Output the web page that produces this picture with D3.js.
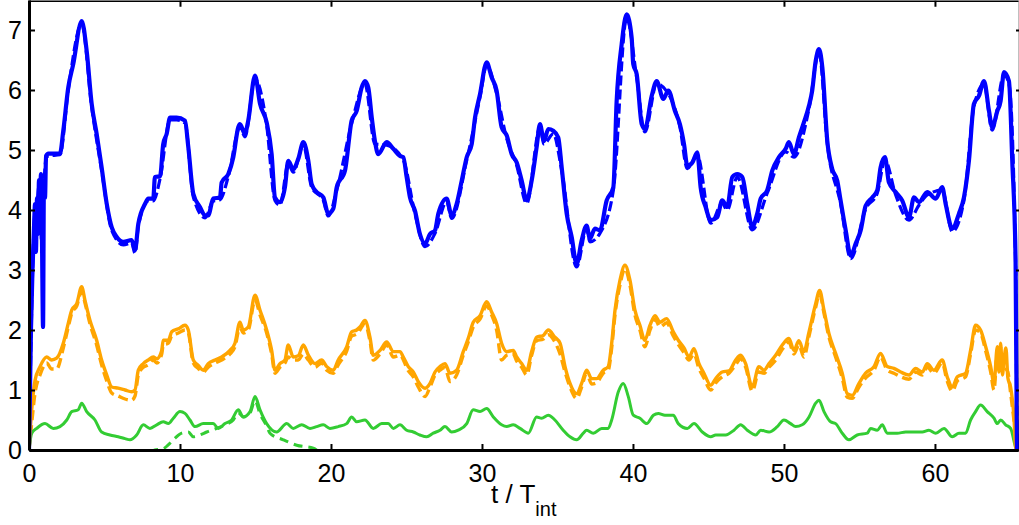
<!DOCTYPE html>
<html>
<head>
<meta charset="utf-8">
<script src="https://cdn.jsdelivr.net/npm/d3@7"></script>
<style>
  body { margin: 0; background: #fff; }
  svg { display: block; }
</style>
</head>
<body>
<div id="chart"></div>
<script>
// tick values
const xTicks = [0, 10, 20, 30, 40, 50, 60];
const yTicks = [0, 1, 2, 3, 4, 5, 6, 7];

// series: [t / T_int, value]
const blueSolid = [
  [0,0],[0.13,2.0],[0.23,3.0],[0.33,3.7],[0.40,4.1],[0.46,3.3],[0.53,4.2],[0.60,3.6],[0.66,4.5],[0.73,3.9],
  [0.79,4.6],[0.86,3.5],[0.93,2.05],[0.99,4.5],[1.06,4.2],[1.13,4.9],[1.28,4.94],[2.05,4.94],[2.27,5.32],[2.60,6.04],
  [2.93,6.43],[3.49,7.15],[3.82,6.65],[4.15,5.77],[4.48,5.27],[4.81,4.71],[5.15,4.10],[5.48,3.71],[5.81,3.55],[6.25,3.47],
  [6.80,3.5],[7.02,3.33],[7.24,3.77],[7.68,4.10],[7.90,4.19],[8.23,4.19],[8.34,4.55],[8.68,4.56],[8.89,5.1],[9.12,5.27],
  [9.34,5.54],[9.78,5.54],[10.33,5.49],[10.55,5.05],[10.88,4.27],[11.32,4.05],[11.66,3.91],[11.87,3.91],[12.20,4.19],[12.65,4.21],
  [12.76,4.46],[13.20,4.6],[13.53,4.88],[13.86,5.38],[13.97,5.43],[14.30,5.27],[14.52,5.49],[14.97,6.24],[15.30,5.77],[15.74,5.46],
  [16.07,4.93],[16.29,4.21],[16.62,4.13],[16.95,4.38],[17.17,4.82],[17.50,4.68],[17.83,4.85],[18.17,5.13],[18.50,4.82],[18.72,4.43],
  [19.05,4.3],[19.49,4.21],[19.82,3.94],[20.15,4.02],[20.38,4.38],[20.93,4.66],[21.37,5.49],[21.70,5.65],[22.03,6.04],[22.25,6.15],
  [22.47,6.04],[22.70,5.54],[22.91,5.15],[23.13,4.93],[23.69,5.13],[24.13,5.02],[24.57,4.9],[24.79,4.88],[25.01,4.55],[25.23,4.21],
  [25.56,3.99],[25.89,3.6],[26.23,3.44],[26.56,3.6],[26.89,3.66],[27.11,3.94],[27.66,4.19],[27.99,3.91],[28.32,4.1],[28.66,4.49],
  [28.99,4.88],[29.32,5.1],[29.54,5.54],[29.87,5.93],[30.31,6.46],[30.64,6.21],[30.97,5.99],[31.30,5.38],[31.64,5.24],[31.97,4.93],
  [32.30,4.79],[32.63,4.49],[32.96,4.16],[33.29,4.49],[33.62,5.05],[33.84,5.43],[34.11,5.15],[34.39,5.35],[34.72,5.32],[35.05,5.21],
  [35.28,4.71],[35.61,3.94],[35.94,3.55],[36.27,3.1],[36.60,3.49],[36.93,3.74],[37.15,3.52],[37.48,3.69],[37.81,3.66],[38.26,4.16],
  [38.70,4.38],[38.92,5.82],[39.25,6.76],[39.58,7.26],[39.91,6.88],[40.02,6.43],[40.25,6.26],[40.58,5.43],[40.79,5.35],[41.24,5.9],
  [41.57,6.15],[42.01,5.85],[42.34,5.99],[42.78,5.65],[43.11,5.43],[43.38,5.1],[43.60,4.74],[43.93,4.79],[44.26,4.96],[44.48,4.38],
  [44.81,4.05],[45.15,3.83],[45.58,3.88],[45.91,4.16],[46.24,4.05],[46.58,4.55],[46.91,4.6],[47.24,4.55],[47.57,4.1],[47.90,3.72],
  [48.23,3.94],[48.46,4.19],[48.89,4.33],[49.23,4.66],[49.67,4.88],[50.11,5.02],[50.33,5.13],[50.66,4.93],[50.99,5.21],[51.32,5.46],
  [51.66,5.74],[51.87,5.99],[52.10,6.48],[52.32,6.68],[52.54,6.38],[52.87,5.15],[53.20,4.68],[53.53,4.49],[53.75,4.16],[54.09,3.66],
  [54.42,3.24],[54.75,3.44],[55.08,3.66],[55.41,4.07],[55.85,4.21],[56.18,4.33],[56.40,4.71],[56.69,4.88],[56.95,4.46],[57.40,4.3],
  [57.83,4.16],[58.28,3.88],[58.61,4.21],[58.94,4.13],[59.49,4.3],[60.05,4.19],[60.48,4.38],[60.71,4.1],[61.15,3.69],[61.59,3.94],
  [61.92,4.21],[62.25,4.82],[62.58,5.77],[62.91,5.9],[63.25,6.15],[63.58,5.65],[63.79,5.38],[64.13,5.65],[64.35,5.82],[64.57,6.3],
  [64.90,6.15],[65.12,4.82],[65.34,3.16],[65.43,0]
];

const blueDashed = [
  [0,0],[0.13,1.8],[0.23,2.9],[0.40,4.0],[0.53,4.1],[0.66,4.4],[0.86,3.4],[0.99,4.4],[1.13,4.85],[1.28,4.9],
  [2.05,4.92],[2.60,6.0],[3.49,7.1],[4.15,5.72],[4.81,4.66],[5.48,3.66],[6.25,3.42],[6.80,3.45],[7.02,3.28],[7.24,3.72],
  [7.90,4.15],[8.23,4.15],[8.68,4.52],[9.34,5.5],[9.78,5.5],[10.33,5.45],[10.88,4.22],[11.66,3.87],[12.20,4.15],[12.65,4.17],
  [13.20,4.56],[13.97,5.38],[14.30,5.22],[14.97,6.18],[15.74,5.41],[16.29,4.16],[16.62,4.08],[17.17,4.77],[17.50,4.63],[18.17,5.08],
  [18.72,4.38],[19.49,4.16],[19.82,3.9],[20.38,4.33],[21.37,5.44],[22.25,6.1],[22.91,5.1],[23.69,5.08],[24.79,4.83],[25.56,3.94],
  [26.23,3.39],[26.89,3.61],[27.66,4.14],[27.99,3.86],[28.99,4.83],[29.87,5.88],[30.31,6.41],[30.97,5.94],[31.64,5.19],[32.30,4.74],
  [32.96,4.11],[33.84,5.38],[34.11,5.1],[34.72,5.27],[35.28,4.66],[36.27,3.05],[36.93,3.69],[37.15,3.47],[37.81,3.61],[38.70,4.33],
  [39.58,7.2],[40.25,6.2],[40.79,5.3],[41.57,6.1],[42.34,5.94],[43.11,5.38],[43.60,4.69],[44.26,4.91],[45.15,3.78],[45.91,4.11],
  [46.24,4.0],[46.91,4.55],[47.90,3.67],[48.89,4.28],[50.11,4.97],[50.66,4.88],[51.66,5.69],[52.32,6.63],[52.87,5.1],[53.75,4.11],
  [54.42,3.19],[55.41,4.02],[56.18,4.28],[56.69,4.83],[57.40,4.25],[58.28,3.83],[58.94,4.08],[59.49,4.25],[60.48,4.33],[61.15,3.64],
  [61.92,4.16],[62.58,5.72],[63.25,6.1],[63.79,5.33],[64.57,6.25],[64.90,6.1],[65.34,3.1],[65.43,0]
];

const orangeSolid = [
  [0,0],[0.18,0.67],[0.40,1.16],[0.73,1.39],[1.17,1.55],[1.50,1.5],[1.83,1.53],[2.27,1.78],[2.60,2.11],[2.83,2.33],
  [3.16,2.44],[3.49,2.72],[3.71,2.49],[4.04,2.16],[4.48,1.83],[4.81,1.5],[5.15,1.25],[5.48,1.05],[5.91,1.03],[6.36,1.0],
  [6.80,0.97],[7.02,1.0],[7.24,1.33],[7.57,1.44],[7.90,1.5],[8.23,1.55],[8.46,1.52],[8.79,1.66],[8.89,1.83],[9.23,1.83],
  [9.45,1.97],[9.89,2.02],[10.33,2.08],[10.55,2.0],[10.88,1.5],[11.21,1.41],[11.54,1.33],[11.87,1.44],[12.32,1.5],[12.76,1.55],
  [13.31,1.66],[13.64,1.78],[13.97,2.13],[14.19,2.0],[14.52,2.05],[14.97,2.58],[15.30,2.33],[15.74,2.0],[16.07,1.66],[16.29,1.33],
  [16.62,1.44],[16.95,1.5],[17.17,1.75],[17.50,1.55],[17.83,1.57],[18.17,1.75],[18.50,1.58],[18.94,1.44],[19.38,1.5],[19.72,1.39],
  [20.15,1.33],[20.48,1.5],[21.04,1.72],[21.37,1.97],[21.70,2.0],[21.92,2.05],[22.25,2.16],[22.58,1.88],[22.80,1.58],[23.25,1.66],
  [23.69,1.8],[24.13,1.64],[24.57,1.64],[24.79,1.55],[25.12,1.39],[25.45,1.3],[25.78,1.14],[26.23,1.03],[26.56,1.11],[26.89,1.3],
  [27.22,1.39],[27.55,1.44],[27.88,1.28],[28.32,1.33],[28.76,1.64],[29.09,1.86],[29.42,2.13],[29.87,2.24],[30.31,2.47],[30.64,2.3],
  [30.97,2.11],[31.30,1.78],[31.64,1.64],[32.07,1.66],[32.30,1.55],[32.63,1.44],[32.96,1.33],[33.29,1.64],[33.62,1.88],[34.06,1.91],
  [34.39,2.0],[34.83,1.88],[35.17,1.78],[35.50,1.39],[35.83,1.11],[36.27,0.94],[36.60,1.11],[36.93,1.33],[37.26,1.19],[37.59,1.19],
  [38.03,1.33],[38.36,1.39],[38.59,1.78],[38.81,2.33],[39.14,2.83],[39.47,3.08],[39.80,2.83],[40.13,2.33],[40.46,2.08],[40.79,1.83],
  [41.13,2.08],[41.46,2.24],[41.79,2.13],[42.23,2.19],[42.67,1.97],[43.00,1.83],[43.38,1.7],[43.71,1.55],[44.04,1.69],[44.37,1.44],
  [44.70,1.28],[45.15,1.08],[45.48,1.19],[45.91,1.3],[46.36,1.32],[46.80,1.5],[47.13,1.58],[47.46,1.44],[47.90,1.05],[48.34,1.39],
  [48.68,1.33],[49.01,1.44],[49.45,1.58],[49.89,1.75],[50.33,1.86],[50.66,1.66],[50.99,1.82],[51.32,1.64],[51.66,1.97],[52.10,2.44],
  [52.36,2.66],[52.65,2.33],[52.98,1.94],[53.42,1.61],[53.86,1.28],[54.19,0.94],[54.52,0.91],[54.97,1.11],[55.41,1.28],[55.96,1.39],
  [56.40,1.61],[56.84,1.39],[57.28,1.36],[57.73,1.3],[58.28,1.25],[58.72,1.36],[59.16,1.3],[59.49,1.44],[59.93,1.33],[60.48,1.5],
  [60.81,1.22],[61.15,1.05],[61.48,1.22],[62.03,1.28],[62.36,1.66],[62.69,2.08],[63.02,2.0],[63.36,1.72],[63.69,1.39],[63.91,1.11],
  [64.13,1.72],[64.24,1.3],[64.35,1.78],[64.47,1.25],[64.57,1.5],[64.70,1.7],[64.83,1.2],[65.01,1.05],[65.23,0.55],[65.34,0.05],
  [65.43,0]
];

const orangeDashed = [
  [0,0],[0.18,0.45],[0.40,0.95],[0.73,1.25],[1.17,1.45],[1.50,1.35],[1.83,1.35],[2.27,1.7],[2.60,2.05],[2.83,2.28],
  [3.16,2.4],[3.49,2.65],[3.71,2.45],[4.04,2.1],[4.48,1.75],[4.81,1.42],[5.15,1.15],[5.48,0.95],[5.91,0.9],[6.36,0.85],
  [6.80,0.83],[7.02,0.9],[7.24,1.25],[7.57,1.38],[7.90,1.42],[8.23,1.5],[8.46,1.45],[8.79,1.6],[8.89,1.75],[9.23,1.78],
  [9.45,1.9],[9.89,1.95],[10.33,2.0],[10.55,1.95],[10.88,1.45],[11.21,1.36],[11.54,1.3],[11.87,1.38],[12.32,1.45],[12.76,1.5],
  [13.31,1.6],[13.64,1.72],[13.97,2.05],[14.19,1.95],[14.52,2.0],[14.97,2.5],[15.30,2.25],[15.74,1.95],[16.07,1.6],[16.29,1.28],
  [16.62,1.38],[16.95,1.45],[17.17,1.55],[17.50,1.5],[17.83,1.5],[18.17,1.6],[18.50,1.5],[18.94,1.38],[19.38,1.45],[19.72,1.33],
  [20.15,1.28],[20.48,1.42],[21.04,1.65],[21.37,1.9],[21.70,1.93],[22.25,2.1],[22.58,1.82],[22.80,1.5],[23.25,1.6],[23.69,1.75],
  [24.13,1.55],[24.57,1.58],[25.12,1.32],[25.45,1.22],[25.78,1.05],[26.23,0.89],[26.56,1.05],[26.89,1.25],[27.22,1.33],[27.55,1.38],
  [27.88,1.14],[28.32,1.25],[28.76,1.58],[29.09,1.8],[29.42,2.05],[29.87,2.18],[30.31,2.4],[30.64,2.25],[30.97,2.0],[31.30,1.5],
  [31.64,1.58],[32.07,1.6],[32.30,1.48],[32.63,1.38],[32.96,1.25],[33.29,1.58],[33.62,1.82],[34.06,1.85],[34.39,1.92],[34.83,1.8],
  [35.17,1.6],[35.50,1.3],[35.83,1.05],[36.27,0.86],[36.60,1.05],[36.93,1.28],[37.26,1.1],[37.59,1.12],[38.03,1.28],[38.36,1.33],
  [38.59,1.7],[38.81,2.25],[39.14,2.75],[39.47,3.02],[39.80,2.75],[40.13,2.25],[40.46,2.0],[40.79,1.72],[41.13,2.0],[41.46,2.18],
  [41.79,2.05],[42.23,2.12],[42.67,1.9],[43.00,1.76],[43.38,1.62],[43.71,1.5],[44.04,1.6],[44.37,1.36],[44.70,1.2],[45.15,1.0],
  [45.48,1.12],[45.91,1.22],[46.36,1.28],[46.80,1.42],[47.13,1.52],[47.46,1.38],[47.90,0.98],[48.34,1.3],[48.68,1.28],[49.01,1.38],
  [49.45,1.5],[49.89,1.68],[50.33,1.8],[50.66,1.6],[50.99,1.75],[51.32,1.55],[51.66,1.9],[52.10,2.38],[52.36,2.6],[52.65,2.28],
  [52.98,1.88],[53.42,1.55],[53.86,1.2],[54.19,0.88],[54.52,0.86],[54.97,1.05],[55.41,1.2],[55.96,1.33],[56.40,1.55],[56.84,1.33],
  [57.28,1.28],[57.73,1.22],[58.28,1.18],[58.72,1.3],[59.16,1.25],[59.49,1.38],[59.93,1.28],[60.48,1.45],[60.81,1.15],[61.15,0.98],
  [61.48,1.15],[62.03,1.22],[62.36,1.6],[62.69,2.0],[63.02,1.95],[63.36,1.65],[63.69,1.3],[63.91,1.0],[64.13,1.65],[64.35,1.7],
  [64.57,1.4],[64.83,1.3],[65.01,0.95],[65.23,0.5],[65.43,0]
];

const greenSolid = [
  [0,0],[0.18,0.28],[0.51,0.36],[1.06,0.44],[1.61,0.36],[2.05,0.39],[2.50,0.5],[2.83,0.64],[3.26,0.67],[3.49,0.78],
  [3.82,0.64],[4.37,0.5],[4.81,0.3],[5.36,0.25],[5.91,0.22],[6.36,0.19],[6.69,0.17],[7.13,0.25],[7.57,0.42],[8.01,0.36],
  [8.46,0.42],[8.89,0.47],[9.23,0.44],[9.56,0.53],[10.00,0.64],[10.33,0.61],[10.66,0.5],[11.00,0.39],[11.54,0.44],[12.20,0.44],
  [12.54,0.36],[12.98,0.44],[13.42,0.5],[13.86,0.67],[14.19,0.55],[14.64,0.64],[14.97,0.89],[15.30,0.67],[15.74,0.44],[16.40,0.3],
  [17.07,0.44],[17.50,0.36],[18.06,0.42],[18.61,0.36],[19.05,0.39],[19.49,0.42],[19.93,0.36],[20.48,0.39],[21.04,0.44],[21.37,0.55],
  [21.70,0.47],[22.25,0.5],[22.80,0.36],[23.36,0.44],[23.79,0.44],[24.13,0.36],[24.57,0.42],[25.01,0.33],[25.45,0.3],[25.89,0.25],
  [26.34,0.22],[26.77,0.28],[27.22,0.33],[27.55,0.39],[27.99,0.3],[28.43,0.33],[28.99,0.44],[29.42,0.67],[29.87,0.64],[30.31,0.69],
  [30.75,0.55],[31.30,0.42],[31.64,0.39],[32.07,0.42],[32.52,0.36],[33.07,0.28],[33.62,0.55],[33.95,0.53],[34.39,0.58],[34.83,0.5],
  [35.38,0.33],[35.83,0.22],[36.27,0.17],[36.71,0.28],[36.93,0.33],[37.37,0.28],[37.93,0.36],[38.36,0.36],[38.59,0.5],[39.03,0.97],
  [39.36,1.11],[39.69,0.89],[40.02,0.58],[40.46,0.53],[40.91,0.44],[41.35,0.58],[41.68,0.61],[42.12,0.58],[42.67,0.58],[43.00,0.44],
  [43.60,0.36],[44.04,0.44],[44.59,0.3],[45.15,0.22],[45.48,0.25],[46.14,0.25],[46.69,0.33],[47.13,0.42],[47.57,0.33],[48.13,0.25],
  [48.46,0.33],[49.01,0.3],[49.56,0.39],[50.00,0.5],[50.44,0.44],[50.77,0.39],[51.21,0.42],[51.66,0.55],[52.10,0.78],[52.32,0.83],
  [52.65,0.64],[53.09,0.47],[53.42,0.44],[53.86,0.28],[54.30,0.17],[54.85,0.25],[55.52,0.28],[55.74,0.36],[56.18,0.33],[56.51,0.42],
  [56.84,0.28],[57.50,0.28],[58.06,0.3],[58.61,0.3],[59.16,0.3],[59.60,0.33],[60.05,0.28],[60.60,0.36],[61.15,0.22],[61.59,0.28],
  [62.03,0.28],[62.36,0.5],[62.69,0.64],[63.02,0.75],[63.46,0.64],[63.91,0.53],[64.13,0.44],[64.35,0.5],[64.68,0.42],[65.01,0.36],
  [65.34,0.05],[65.43,0]
];

// the dashed green run is only visible where it is above zero
const greenDashed = [
  [8.01,-0.05],[8.34,0.0],[8.89,0.02],[9.20,0.08],[9.56,0.17],[10.11,0.28],[10.55,0.3],[10.88,0.22],[11.32,0.25],[11.77,0.3],
  [12.43,0.36],[12.98,0.42],[13.53,0.5],[13.86,0.62],[14.19,0.55],[14.64,0.62],[14.97,0.82],[15.30,0.6],[15.74,0.4],[15.96,0.28],
  [16.84,0.17],[17.73,0.08],[18.83,0.03],[19.27,-0.05]
];

const width = 1019;
const height = 525;

const svg = d3.select("#chart")
  .append("svg")
  .attr("width", width)
  .attr("height", height);

// scales
const x = d3.scaleLinear().domain([0, 65.5]).range([29, 1018]);
const y = d3.scaleLinear().domain([0, 7.5]).range([450, 0]);

svg.append("defs").append("clipPath")
  .attr("id", "plot-clip")
  .append("rect")
  .attr("x", 29).attr("y", 0)
  .attr("width", 990).attr("height", 450);

const line = d3.line()
  .curve(d3.curveMonotoneX)
  .x(d => x(d[0]))
  .y(d => y(d[1]));

const plot = svg.append("g").attr("clip-path", "url(#plot-clip)");

// dashed first, solid on top
const series = [
  { data: greenDashed, color: "#33cc33", w: 3, dash: "9,6" },
  { data: orangeDashed, color: "#ffa500", w: 3.4, dash: "10,5" },
  { data: blueDashed, color: "#0000ff", w: 3.2, dash: "10,4" },
  { data: greenSolid, color: "#33cc33", w: 3, dash: null },
  { data: orangeSolid, color: "#ffa500", w: 3.4, dash: null },
  { data: blueSolid, color: "#0000ff", w: 4.2, dash: null }
];

plot.selectAll("path")
  .data(series)
  .enter()
  .append("path")
  .attr("d", d => line(d.data))
  .attr("fill", "none")
  .attr("stroke", d => d.color)
  .attr("stroke-width", d => d.w)
  .attr("stroke-linejoin", "round")
  .attr("stroke-dasharray", d => d.dash);

// axes
const font = "'Liberation Sans', Arial, Helvetica, sans-serif";

const leftAxis = svg.append("g")
  .attr("transform", "translate(29,0)")
  .call(d3.axisLeft(y).tickValues(yTicks).tickSizeInner(-6).tickSizeOuter(0).tickPadding(7));

const bottomAxis = svg.append("g")
  .attr("transform", "translate(0,450)")
  .call(d3.axisBottom(x).tickValues(xTicks).tickSizeInner(-6).tickSizeOuter(0).tickPadding(14));

const topAxis = svg.append("g")
  .attr("transform", "translate(0,0.75)")
  .call(d3.axisTop(x).tickValues(xTicks).tickSizeInner(-6).tickSizeOuter(0).tickFormat(""));

const rightAxis = svg.append("g")
  .attr("transform", "translate(1019,0)")
  .call(d3.axisRight(y).tickValues(yTicks).tickSizeInner(-3).tickSizeOuter(0).tickFormat(""));

[leftAxis, bottomAxis].forEach(g => {
  g.select(".domain").attr("stroke-width", 3);
  g.selectAll(".tick line").attr("stroke-width", 2);
  g.selectAll("text")
    .attr("font-family", font)
    .attr("font-size", 25)
    .attr("fill", "#000");
});
topAxis.select(".domain").attr("stroke-width", 1.5);
topAxis.selectAll(".tick line").attr("stroke-width", 2);
rightAxis.select(".domain").attr("stroke-width", 1.5);
rightAxis.selectAll(".tick line").attr("stroke-width", 2);

// x label: t / T_int
const xlabel = svg.append("text")
  .attr("x", 491)
  .attr("y", 503)
  .attr("font-family", font)
  .attr("font-size", 26)
  .attr("fill", "#000");
xlabel.append("tspan").text("t / T");
xlabel.append("tspan")
  .attr("dy", 13)
  .attr("font-size", 20)
  .text("int");
</script>
</body>
</html>
